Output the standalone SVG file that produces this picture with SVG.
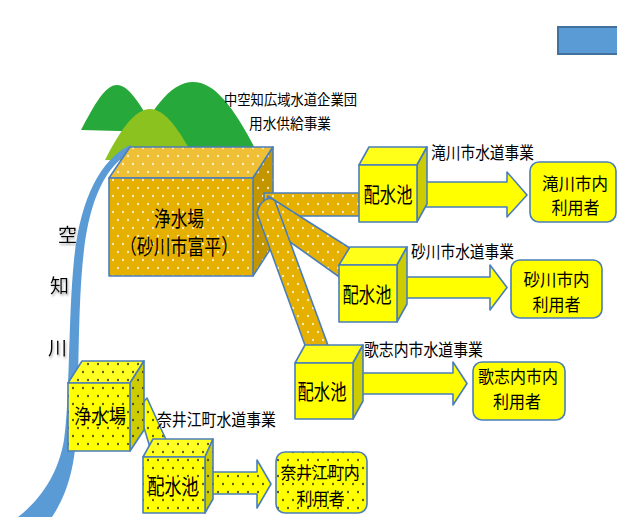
<svg xmlns="http://www.w3.org/2000/svg" width="617" height="517" viewBox="0 0 617 517">
<style>
text{font-family:'Noto Sans CJK JP','Noto Sans CJK SC',sans-serif;fill:#000;text-anchor:middle}
.ln{stroke:#4A7EBB;stroke-width:1.6;stroke-linejoin:round}
.yf{fill:#FFFF00}
.yt{fill:#FFFF1A}
.yr{fill:#CCCC00}
.lab{font-size:17px}
.box{font-size:17.5px}
.cube{font-size:21px}
</style>
<defs>
<pattern id="oF" width="10" height="16" patternUnits="userSpaceOnUse"><rect width="10" height="16" fill="#E6B000"/><ellipse cx="3" cy="4" rx="0.8" ry="1.3" fill="#fff"/><ellipse cx="8" cy="12" rx="0.8" ry="1.3" fill="#fff"/></pattern>
<pattern id="oT" width="10" height="16" patternUnits="userSpaceOnUse"><rect width="10" height="16" fill="#EFC036"/><ellipse cx="3" cy="4" rx="0.8" ry="1.3" fill="#fff"/><ellipse cx="8" cy="12" rx="0.8" ry="1.3" fill="#fff"/></pattern>
<pattern id="oR" width="10" height="16" patternUnits="userSpaceOnUse"><rect width="10" height="16" fill="#C39600"/><ellipse cx="3" cy="4" rx="0.8" ry="1.3" fill="#fff"/><ellipse cx="8" cy="12" rx="0.8" ry="1.3" fill="#fff"/></pattern>
<pattern id="yF" width="10" height="16" patternUnits="userSpaceOnUse"><rect width="10" height="16" fill="#FFFF00"/><ellipse cx="3" cy="4" rx="0.8" ry="1.2" fill="#222"/><ellipse cx="8" cy="12" rx="0.8" ry="1.2" fill="#222"/></pattern>
<pattern id="yT" width="10" height="16" patternUnits="userSpaceOnUse"><rect width="10" height="16" fill="#FFFF22"/><ellipse cx="3" cy="4" rx="0.8" ry="1.2" fill="#222"/><ellipse cx="8" cy="12" rx="0.8" ry="1.2" fill="#222"/></pattern>
<pattern id="yR" width="10" height="16" patternUnits="userSpaceOnUse"><rect width="10" height="16" fill="#CCCC00"/><ellipse cx="3" cy="4" rx="0.8" ry="1.2" fill="#222"/><ellipse cx="8" cy="12" rx="0.8" ry="1.2" fill="#222"/></pattern>
<filter id="sh" x="-30%" y="-30%" width="160%" height="160%"><feDropShadow dx="1" dy="2" stdDeviation="1" flood-color="#888" flood-opacity="0.7"/></filter>
</defs>

<rect id="legend" x="558" y="27" width="62" height="27" fill="#5B9BD5" stroke="#41719C" stroke-width="2"/>

<g id="mountains">
<path d="M81,130 C95,104 105,85 117,85 C129,85 141,105 156,132 Z" fill="#27A83A"/>
<path d="M125,162 C150,110 170,82 193,82 C216,82 236,110 262,162 Z" fill="#27A83A"/>
<path d="M105,160 C120,130 135,109 150,109 C165,109 180,130 196,162 Z" fill="#8CC220"/>
</g>

<g id="river">
<path d="M130,145 C100,160 80,200 74,260 C68,320 70,400 64,440 C58,475 40,500 18,517 L52,517 C70,490 76,460 77,420 C79,370 78,300 84,250 C90,200 105,165 134,150 Z" fill="#5B9BD5"/>
<g filter="url(#sh)" style="font-size:19px">
<text x="67.5" y="242">空</text>
<text x="59.5" y="293">知</text>
<text x="57.5" y="355">川</text>
</g>
</g>

<g id="plant-main">
<polygon class="ln" points="109,178 130,147 273,147 253,178" fill="url(#oT)"/>
<polygon class="ln" points="253,178 273,147 273,245 253,276" fill="url(#oR)"/>
<rect class="ln" x="109" y="178" width="144" height="98" fill="url(#oF)"/>
<text class="cube" x="179" y="225.5" textLength="50" lengthAdjust="spacingAndGlyphs">浄水場</text>
<text class="cube" x="179" y="254" textLength="118" lengthAdjust="spacingAndGlyphs">（砂川市富平）</text>
</g>

<g id="label-nakasorachi">
<text x="290.5" y="105" style="font-size:15px" textLength="133" lengthAdjust="spacingAndGlyphs">中空知広域水道企業団</text>
<text x="290" y="129" style="font-size:15px" textLength="82" lengthAdjust="spacingAndGlyphs">用水供給事業</text>
</g>

<g id="connectors">
<polygon class="ln" points="264,193 365,193 365,216 264,216" fill="url(#oF)"/>
<polygon class="ln" points="268,196 356,252 345,281 262,222" fill="url(#oF)"/>
<path class="ln" d="M257,213 L306,348 L329,348 L275,201 C270,195 260,200 257,213 Z" fill="url(#oF)"/>
<polygon class="ln" points="138,408 147,398 168,444 152,454" fill="url(#yF)"/>
<polygon class="ln yf" points="419,182 507,182 507,172 527,195 507,217 507,207 419,207"/>
<polygon class="ln yf" points="399,277 490,277 490,265 507,287.5 490,310 490,298 399,298"/>
<polygon class="ln yf" points="357,373 453,373 453,362 467,383.5 453,405 453,394 357,394"/>
<polygon class="ln" points="209,472 257,472 257,460 271,484 257,508 257,494 209,494" fill="url(#yF)"/>
</g>

<g id="pool-takikawa">
<polygon class="ln yt" points="359,165 369,147 427,147 417,165"/>
<polygon class="ln yr" points="417,165 427,147 427,204 417,222"/>
<rect class="ln yf" x="359" y="165" width="58" height="57"/>
<text class="cube" x="388" y="202" textLength="49" lengthAdjust="spacingAndGlyphs">配水池</text>
<text class="lab" x="482.5" y="159" textLength="103" lengthAdjust="spacingAndGlyphs">滝川市水道事業</text>
</g>
<g id="user-takikawa">
<rect class="ln yf" x="530" y="162" width="86" height="60" rx="9"/>
<text class="box" x="575" y="189.5" textLength="66" lengthAdjust="spacingAndGlyphs">滝川市内</text>
<text class="box" x="575.5" y="213.5" textLength="48" lengthAdjust="spacingAndGlyphs">利用者</text>
</g>

<g id="pool-sunagawa">
<polygon class="ln yt" points="339,265 350,247 407,247 397,265"/>
<polygon class="ln yr" points="397,265 407,247 407,304 397,322"/>
<rect class="ln yf" x="339" y="265" width="58" height="57"/>
<text class="cube" x="367" y="302" textLength="49" lengthAdjust="spacingAndGlyphs">配水池</text>
<text class="lab" x="462.5" y="257.5" textLength="103" lengthAdjust="spacingAndGlyphs">砂川市水道事業</text>
</g>
<g id="user-sunagawa">
<rect class="ln yf" x="511" y="260" width="91" height="58" rx="9"/>
<text class="box" x="556.5" y="286" textLength="66" lengthAdjust="spacingAndGlyphs">砂川市内</text>
<text class="box" x="556.5" y="311" textLength="48" lengthAdjust="spacingAndGlyphs">利用者</text>
</g>

<g id="pool-utashinai">
<polygon class="ln yt" points="295,363 305,345 363,345 353,363"/>
<polygon class="ln yr" points="353,363 363,345 363,401 353,419"/>
<rect class="ln yf" x="295" y="363" width="58" height="56"/>
<text class="cube" x="322" y="399" textLength="49" lengthAdjust="spacingAndGlyphs">配水池</text>
<text class="lab" x="423.5" y="355.5" textLength="119" lengthAdjust="spacingAndGlyphs">歌志内市水道事業</text>
</g>
<g id="user-utashinai">
<rect class="ln yf" x="473" y="362" width="92" height="58" rx="9"/>
<text class="box" x="518" y="383" textLength="80" lengthAdjust="spacingAndGlyphs">歌志内市内</text>
<text class="box" x="517" y="408" textLength="48" lengthAdjust="spacingAndGlyphs">利用者</text>
</g>

<g id="plant-naie">
<polygon class="ln" points="68,383 82,361 144,361 130,383" fill="url(#yT)"/>
<polygon class="ln" points="130,383 144,361 144,430 130,451" fill="url(#yR)"/>
<rect class="ln" x="68" y="383" width="62" height="68" fill="url(#yF)"/>
<text x="100" y="424" style="font-size:20px" textLength="52" lengthAdjust="spacingAndGlyphs">浄水場</text>
</g>

<g id="pool-naie">
<polygon class="ln" points="143,457 153,439 213,439 205,457" fill="url(#yT)"/>
<polygon class="ln" points="205,457 213,439 213,499 205,513" fill="url(#yR)"/>
<rect class="ln" x="143" y="457" width="62" height="56" fill="url(#yF)"/>
<text class="cube" x="173" y="494" textLength="51" lengthAdjust="spacingAndGlyphs">配水池</text>
<text class="lab" x="216.5" y="425.5" textLength="119" lengthAdjust="spacingAndGlyphs">奈井江町水道事業</text>
</g>
<g id="user-naie">
<rect class="ln" x="276" y="452" width="91" height="61" rx="9" fill="url(#yF)"/>
<text class="box" x="320" y="479" textLength="79" lengthAdjust="spacingAndGlyphs">奈井江町内</text>
<text class="box" x="320.5" y="505" textLength="48" lengthAdjust="spacingAndGlyphs">利用者</text>
</g>
</svg>
